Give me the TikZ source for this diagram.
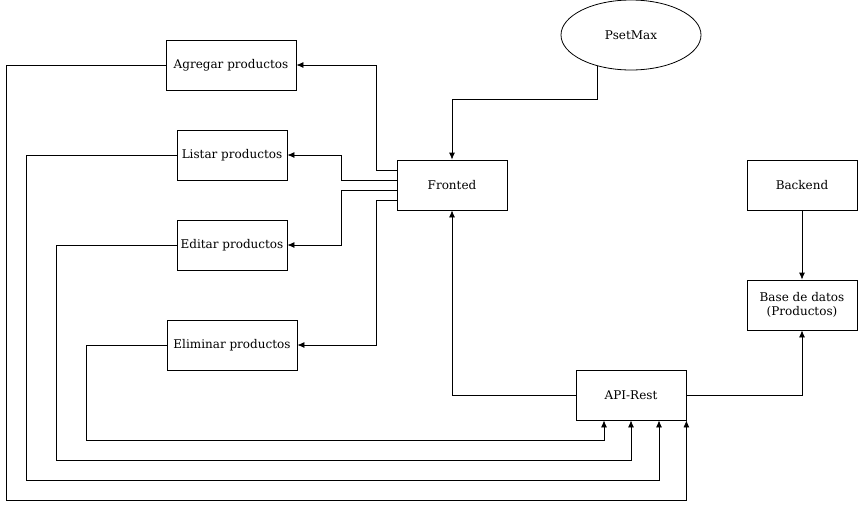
\documentclass[tikz,border=0pt]{standalone}
\usepackage{fontspec}
\setmainfont{DejaVu Serif}
\usetikzlibrary{arrows.meta,shapes.geometric}

\begin{document}
\begin{tikzpicture}[x=1pt,y=-1pt,
  box/.style={draw,line width=0.8pt,minimum width=110pt,minimum height=50pt,
    inner sep=0pt,align=center,font=\fontsize{12}{14}\selectfont},
  widebox/.style={box,minimum width=130pt},
  link/.style={line width=0.8pt,-{Latex[length=7pt,width=6pt]}}]

\useasboundingbox (0,0) rectangle (858,509);

\node[widebox] (agregar) at (231,65) {Agregar productos};
\node[box] (listar) at (232,155) {Listar productos};
\node[box] (editar) at (232,245) {Editar productos};
\node[widebox] (eliminar) at (232,345) {Eliminar productos};
\node[box] (fronted) at (452,185) {Fronted};
\node[draw,ellipse,line width=0.8pt,minimum width=140pt,minimum height=70pt,
  inner sep=0pt,font=\fontsize{12}{14}\selectfont] (psetmax) at (631,35) {PsetMax};
\node[box] (backend) at (802,185) {Backend};
\node[box] (bd) at (802,305) {Base de datos\\(Productos)};
\node[box] (api) at (631,395) {API-Rest};

\draw[link] (psetmax.-137) -- ++(0,33) -| (fronted.north);

\draw[link] ([yshift=15pt]fronted.west) -- ++(-20,0) |- (agregar.east);
\draw[link] ([yshift=5pt]fronted.west) -- ++(-55,0) |- (listar.east);
\draw[link] ([yshift=-5pt]fronted.west) -- ++(-55,0) |- (editar.east);
\draw[link] ([yshift=-15pt]fronted.west) -- ++(-20,0) |- (eliminar.east);

\draw[link] (api.west) -| (fronted.south);
\draw[link] (api.east) -| (bd.south);
\draw[link] (backend) -- (bd);

\draw[link] (agregar.west) -- ++(-159,0) -- ++(0,435) -| (api.south east);
\draw[link] (listar.west) -- ++(-150,0) -- ++(0,325) -| ([xshift=28pt]api.south);
\draw[link] (editar.west) -- ++(-120,0) -- ++(0,215) -| (api.south);
\draw[link] (eliminar.west) -- ++(-80,0) -- ++(0,95) -| ([xshift=-27pt]api.south);

\end{tikzpicture}
\end{document}
